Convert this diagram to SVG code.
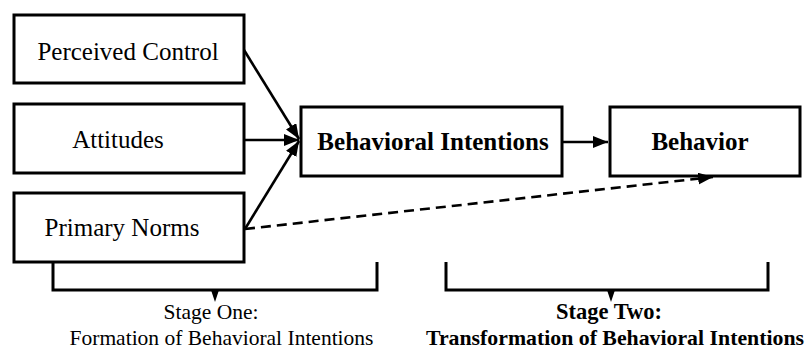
<svg xmlns="http://www.w3.org/2000/svg" width="812" height="350" viewBox="0 0 812 350">
<defs>
<style>
.box{fill:#fff;stroke:#000;stroke-width:3}
.t{font-family:"Liberation Serif","Times New Roman",serif;fill:#000;text-anchor:middle}
.lbl{font-size:25px}
.b{font-weight:bold}
.con{fill:none;stroke:#000;stroke-width:2.6}
.dash{stroke-dasharray:10 6}
.br{fill:none;stroke:#000;stroke-width:3}
</style>
<marker id="ah" markerUnits="userSpaceOnUse" markerWidth="16" markerHeight="12" refX="15" refY="6" orient="auto">
<path d="M0,0 L15,6 L0,12 z" fill="#000"/>
</marker>
</defs>
<g id="perceived-control">
<rect class="box" x="14" y="15" width="230" height="68"/>
<text class="t lbl" x="128" y="60">Perceived Control</text>
</g>
<g id="attitudes">
<rect class="box" x="14" y="104" width="230" height="69"/>
<text class="t lbl" x="118" y="148">Attitudes</text>
</g>
<g id="primary-norms">
<rect class="box" x="14" y="193" width="230" height="69"/>
<text class="t lbl" x="122" y="236">Primary Norms</text>
</g>
<g id="behavioral-intentions">
<rect class="box" x="301" y="107" width="261" height="69"/>
<text class="t lbl b" x="433" y="150">Behavioral Intentions</text>
</g>
<g id="behavior">
<rect class="box" x="610" y="107" width="190" height="69"/>
<text class="t lbl b" x="700" y="150">Behavior</text>
</g>
<g id="connectors">
<line class="con" x1="244" y1="50" x2="299" y2="139" marker-end="url(#ah)"/>
<line class="con" x1="244" y1="140" x2="299" y2="140" marker-end="url(#ah)"/>
<line class="con" x1="245" y1="229" x2="299" y2="141" marker-end="url(#ah)"/>
<line class="con" x1="562" y1="142" x2="608" y2="142" marker-end="url(#ah)"/>
<line class="con dash" x1="245" y1="229" x2="713" y2="177" marker-end="url(#ah)"/>
</g>
<g id="stage-one">
<path class="br" d="M53,262 V290 H377 V262"/>
<path d="M211,290 L219,290 L215,302 z" fill="#000"/>
<text class="t" x="211" y="319" font-size="21.5">Stage One:</text>
<text class="t" x="221.5" y="345" font-size="21.5">Formation of Behavioral Intentions</text>
</g>
<g id="stage-two">
<path class="br" d="M446,262 V290 H768 V262"/>
<path d="M607,290 L615,290 L611,302 z" fill="#000"/>
<text class="t b" x="609" y="319" font-size="22.5">Stage Two:</text>
<text class="t b" x="615" y="345" font-size="21.8">Transformation of Behavioral Intentions</text>
</g>
</svg>
